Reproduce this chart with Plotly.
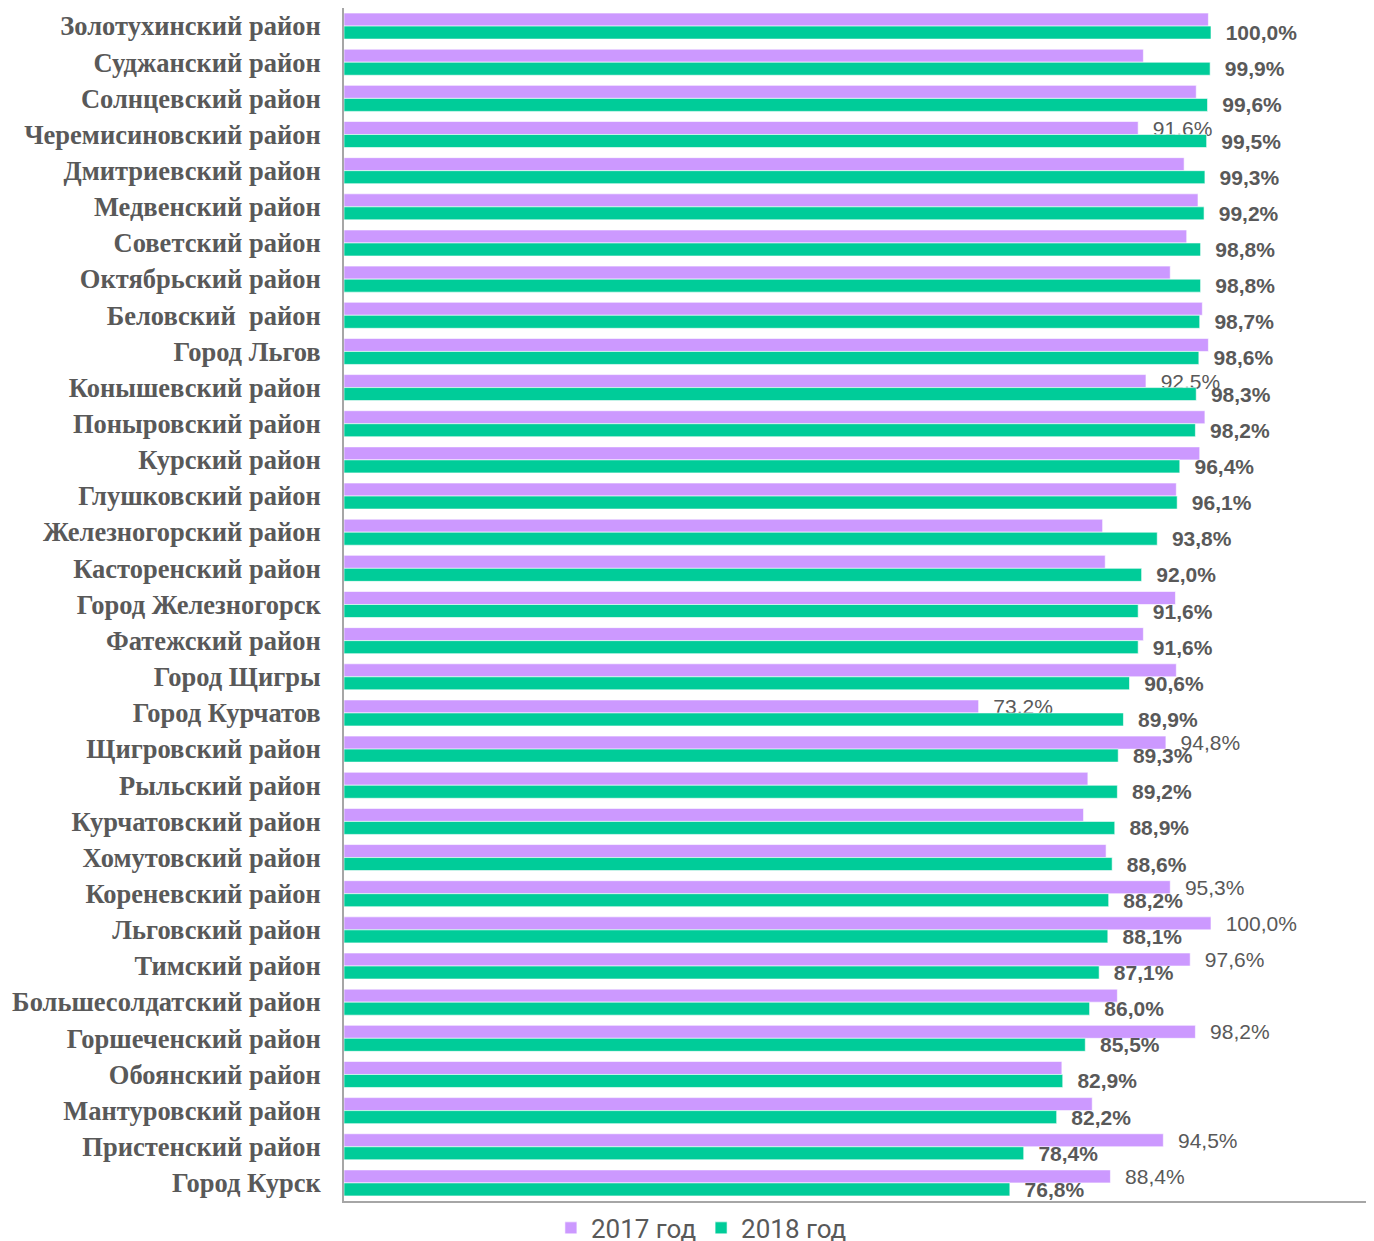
import plotly.graph_objects as go

# districts, top to bottom
districts = [
    "Золотухинский район", "Суджанский район", "Солнцевский район",
    "Черемисиновский район", "Дмитриевский район", "Медвенский район",
    "Советский район", "Октябрьский район", "Беловский  район",
    "Город Льгов", "Конышевский район", "Поныровский район",
    "Курский район", "Глушковский район", "Железногорский район",
    "Касторенский район", "Город Железногорск", "Фатежский район",
    "Город Щигры", "Город Курчатов", "Щигровский район",
    "Рыльский район", "Курчатовский район", "Хомутовский район",
    "Кореневский район", "Льговский район", "Тимский район",
    "Большесолдатский район", "Горшеченский район", "Обоянский район",
    "Мантуровский район", "Пристенский район", "Город Курск",
]

vals_2017 = [
    99.7, 92.2, 98.3, 91.6, 96.9, 98.5, 97.2, 95.3, 99.0, 99.7, 92.5,
    99.3, 98.7, 96.0, 87.5, 87.8, 95.9, 92.2, 96.0, 73.2, 94.8, 85.8,
    85.3, 87.9, 95.3, 100.0, 97.6, 89.2, 98.2, 82.8, 86.3, 94.5, 88.4,
]

vals_2018 = [
    100.0, 99.9, 99.6, 99.5, 99.3, 99.2, 98.8, 98.8, 98.7, 98.6, 98.3,
    98.2, 96.4, 96.1, 93.8, 92.0, 91.6, 91.6, 90.6, 89.9, 89.3, 89.2,
    88.9, 88.6, 88.2, 88.1, 87.1, 86.0, 85.5, 82.9, 82.2, 78.4, 76.8,
]

# only some 2017 values carry a label in the original
labelled_2017 = [
    "Черемисиновский район", "Конышевский район", "Город Курчатов",
    "Щигровский район", "Кореневский район", "Льговский район",
    "Тимский район", "Горшеченский район", "Пристенский район", "Город Курск",
]


def pct(v):
    return "  " + f"{v:.1f}".replace(".", ",") + "%"


text_2017 = [pct(v) if d in labelled_2017 else "" for d, v in zip(districts, vals_2017)]
text_2018 = [pct(v) for v in vals_2018]

fig = go.Figure()
fig.add_trace(go.Bar(
    name="2017 год", y=districts, x=vals_2017, orientation="h",
    marker=dict(color="#CC99FF", line=dict(color="rgba(255,255,255,0.6)", width=1)),
    text=text_2017, textposition="outside", constraintext="none", cliponaxis=False,
    textfont=dict(family="Liberation Sans, Arial", size=21, color="#595959"),
))
fig.add_trace(go.Bar(
    name="2018 год", y=districts, x=vals_2018, orientation="h",
    marker=dict(color="#00CC99", line=dict(color="rgba(255,255,255,0.6)", width=1)),
    text=text_2018, textposition="outside", constraintext="none", cliponaxis=False,
    textfont=dict(family="Liberation Sans, Arial", size=21, color="#595959", weight="bold"),
))

# page body adds an 8px margin, so the figure is sized to fit inside it
fig.update_layout(
    width=1366, height=1233,
    margin=dict(l=336, r=0, t=0, b=40, autoexpand=False),
    plot_bgcolor="white", paper_bgcolor="white",
    barmode="group", bargap=0.28, bargroupgap=0,
    showlegend=True,
    legend=dict(
        orientation="h", x=0.347, xanchor="center",
        y=-0.0226, yanchor="middle",
        font=dict(family="Roboto", size=26, color="#595959"),
        traceorder="normal", itemwidth=30,
    ),
)
fig.update_xaxes(
    range=[0, 118.8], showticklabels=False, showgrid=False, zeroline=False,
    showline=True, linecolor="#A6A6A6", linewidth=2, automargin=False,
)
fig.update_yaxes(
    categoryorder="array", categoryarray=districts, autorange="reversed",
    showgrid=False, zeroline=False, showline=True, linecolor="#A6A6A6", linewidth=2,
    ticks="", ticklabelstandoff=16, automargin=False,
    tickfont=dict(family="Liberation Serif, Times New Roman", size=26.5, color="#595959", weight="bold"),
)

fig.write_html("out.html")
